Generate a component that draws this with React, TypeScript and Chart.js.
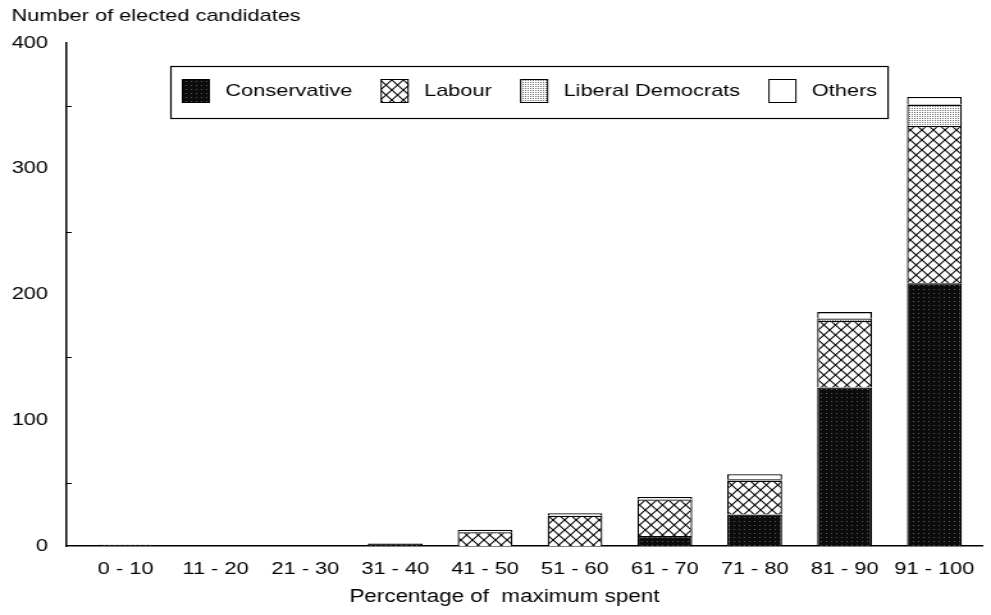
import React, { useEffect, useRef } from 'react';
import { Chart, registerables } from 'chart.js';

Chart.register(...registerables);

// ---- data ----
const categories = ['0 - 10', '11 - 20', '21 - 30', '31 - 40', '41 - 50', '51 - 60', '61 - 70', '71 - 80', '81 - 90', '91 - 100'];
const conservative = [1, 0, 0, 2, 0, 0, 8, 25, 126, 209];
const labour = [0, 0, 0, 0, 11, 24, 29, 27, 53, 125];
const libDems = [0, 0, 0, 0, 0, 0, 0, 1, 2, 17];
const others = [0, 0, 0, 0, 2, 2, 2, 4, 5, 6];
const seriesNames = ['Conservative', 'Labour', 'Liberal Democrats', 'Others'];
const yMinorTicks = [50, 150, 250, 350];
const yTitle = 'Number of elected candidates';
const xTitle = 'Percentage of  maximum spent';

const FONT = '"Liberation Sans", Arial, Helvetica, sans-serif';
const W = 774; // logical canvas width (stretched to 991px by CSS, like the reference)
const H = 615;

export default function App() {
  const ref = useRef<HTMLCanvasElement | null>(null);

  useEffect(() => {
    document.body.style.margin = '0';
    const canvas = ref.current!;
    const ctx = canvas.getContext('2d')!;

    const makePattern = (w: number, h: number, draw: (g: CanvasRenderingContext2D) => void) => {
      const c = document.createElement('canvas');
      c.width = w;
      c.height = h;
      const g = c.getContext('2d')!;
      draw(g);
      return ctx.createPattern(c, 'repeat')!;
    };

    const conPat = makePattern(4, 4, (g) => {
      g.fillStyle = '#0c0c0c';
      g.fillRect(0, 0, 4, 4);
      g.fillStyle = '#5e5e5e';
      g.fillRect(1, 1, 1, 1);
    });
    const labPat = makePattern(9, 10, (g) => {
      g.fillStyle = '#fff';
      g.fillRect(0, 0, 9, 10);
      g.strokeStyle = '#000';
      g.lineWidth = 1.1;
      g.beginPath();
      g.moveTo(-1, -10 / 9);
      g.lineTo(10, 10 + 10 / 9);
      g.moveTo(10, -10 / 9);
      g.lineTo(-1, 10 + 10 / 9);
      g.stroke();
    });
    const ldPat = makePattern(2, 2, (g) => {
      g.fillStyle = '#fff';
      g.fillRect(0, 0, 2, 2);
      g.fillStyle = '#707070';
      g.fillRect(0, 0, 1, 1);
    });
    const fills: (string | CanvasPattern)[] = [conPat, labPat, ldPat, '#ffffff'];
    const series = [conservative, labour, libDems, others];

    Chart.defaults.font.family = FONT;
    Chart.defaults.font.size = 17;
    Chart.defaults.color = '#000';

    const extras = {
      id: 'extras',
      afterDraw(chart: any) {
        const c = chart.ctx as CanvasRenderingContext2D;
        const area = chart.chartArea;
        const y = chart.scales.y;
        c.save();
        // inner minor tick marks on the y axis
        c.strokeStyle = '#000';
        c.lineWidth = 1.2;
        c.beginPath();
        yMinorTicks.forEach((v) => {
          const py = Math.round(y.getPixelForValue(v)) + 0.5;
          c.moveTo(area.left, py);
          c.lineTo(area.left + 4.5, py);
        });
        c.stroke();

        // x axis title
        c.font = `17.5px ${FONT}`;
        c.fillStyle = '#000';
        c.textAlign = 'center';
        c.textBaseline = 'middle';
        c.fillText(xTitle, 394, 597);

        // legend box
        c.font = `17px ${FONT}`;
        c.textAlign = 'left';
        let x = 142;
        const swW = 22;
        const swH = 24;
        const swTop = 79;
        const boxLeft = 133;
        const boxTop = 66;
        const boxBottom = 118;
        chart.data.datasets.forEach((ds: any, i: number) => {
          c.fillStyle = fills[i];
          c.fillRect(x, swTop, swW, swH);
          c.strokeStyle = '#000';
          c.lineWidth = 1;
          c.strokeRect(x + 0.5, swTop + 0.5, swW - 1, swH - 1);
          c.fillStyle = '#000';
          const tx = x + swW + 12;
          c.fillText(ds.label, tx, 91);
          x = tx + c.measureText(ds.label).width + 22;
        });
        const boxRight = x - 22 + 8;
        c.strokeStyle = '#000';
        c.lineWidth = 1.2;
        c.strokeRect(boxLeft + 0.5, boxTop + 0.5, boxRight - boxLeft, boxBottom - boxTop);
        c.restore();
      },
    };

    const chart = new Chart(canvas, {
      type: 'bar',
      data: {
        datasets: series.map((vals, i) => ({
          label: seriesNames[i],
          data: vals.map((v, k) => ({ x: k, y: v })),
          backgroundColor: fills[i] as any,
          borderColor: '#000',
          borderWidth: 1.3,
          stack: 'all',
          barPercentage: 0.61,
          categoryPercentage: 1,
        })),
      },
      options: {
        responsive: false,
        animation: false,
        devicePixelRatio: 1,
        layout: { padding: { left: 9, right: 0, top: 0, bottom: 22.6 } },
        plugins: {
          legend: { display: false },
          tooltip: { enabled: false },
          title: {
            display: true,
            text: yTitle,
            align: 'start',
            color: '#000',
            font: { size: 17, weight: 'normal', family: FONT },
            padding: { top: 6, bottom: 16.6 },
          },
        },
        scales: {
          x: {
            type: 'linear',
            stacked: true,
            offset: false,
            min: -0.664,
            max: 9.54,
            grid: { display: false, drawTicks: false },
            border: { display: true, color: '#000', width: 1.5 },
            ticks: {
              stepSize: 1,
              includeBounds: false,
              autoSkip: false,
              maxRotation: 0,
              minRotation: 0,
              padding: 13,
              color: '#000',
              font: { size: 17, family: FONT },
              callback: (v: any) => (Number.isInteger(v) && categories[v] !== undefined ? categories[v] : ''),
            },
          },
          y: {
            stacked: true,
            min: 0,
            max: 400,
            grid: { display: false, drawTicks: false },
            border: { display: true, color: '#000', width: 1.5 },
            afterFit: (scale: any) => {
              scale.width = 42.5;
            },
            ticks: {
              stepSize: 50,
              padding: 14,
              color: '#000',
              font: { size: 17, family: FONT },
              callback: (v: any) => (v % 100 === 0 ? String(v) : ''),
            },
          },
        },
      },
      plugins: [extras],
    } as any);

    return () => {
      chart.destroy();
    };
  }, []);

  return (
    <canvas
      ref={ref}
      width={W}
      height={H}
      style={{ width: '991px', height: '615px', display: 'block' }}
    />
  );
}
